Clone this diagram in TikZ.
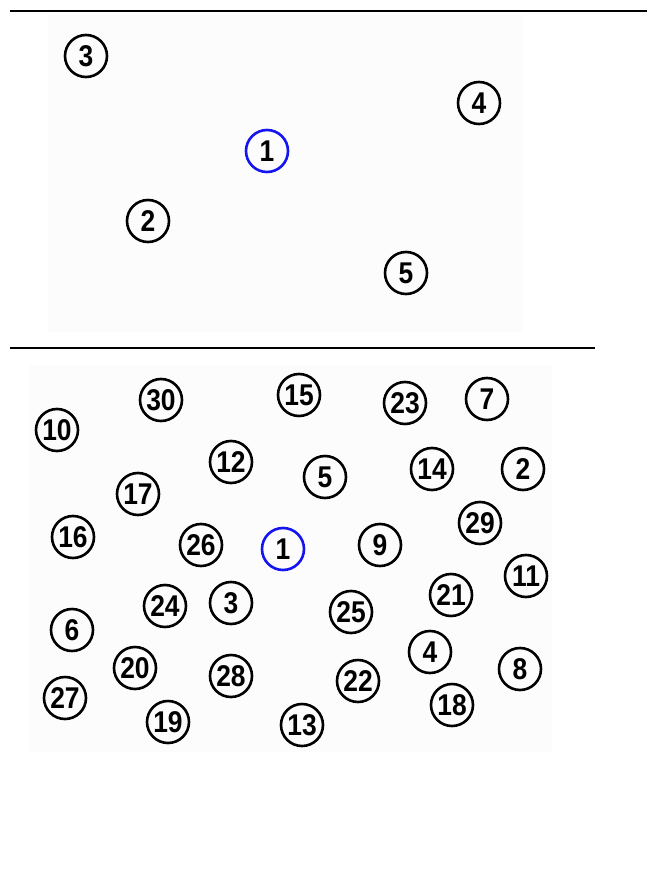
\documentclass[tikz,border=0pt]{standalone}
\usepackage{fontspec}
\newfontfamily\numfont[FakeStretch=0.88]{Liberation Sans}
\definecolor{panel}{RGB}{252,252,252}
\definecolor{blueedge}{RGB}{20,20,240}
\begin{document}
\begin{tikzpicture}[x=1pt,y=-1pt,
  num/.style={circle,draw=black,line width=2.6pt,minimum size=42pt,inner sep=0pt,
    font=\numfont\bfseries\fontsize{30}{30}\selectfont},
  root/.style={num,draw=blueedge},
  rule/.style={line width=2.2pt,black}]
\useasboundingbox (0,0) rectangle (647,877);
\fill[white] (0,0) rectangle (647,877);
% panels
\fill[panel] (48,15) rectangle (522,332);
\fill[panel] (30,365) rectangle (552,752);
% separator rules
\coordinate (r1a) at (10,11); \coordinate (r1b) at (647,11);
\coordinate (r2a) at (10,348); \coordinate (r2b) at (595,348);
\draw[rule] (r1a) -- (r1b);
\draw[rule] (r2a) -- (r2b);
% top panel
\node[num]  (t3) at (86,56)   {3};
\node[num]  (t4) at (479,103) {4};
\node[root] (t1) at (267,151) {1};
\node[num]  (t2) at (148,221) {2};
\node[num]  (t5) at (406,273) {5};
% bottom panel
\node[num] (b30) at (161,400) {30};
\node[num] (b15) at (299,395) {15};
\node[num] (b23) at (405,403) {23};
\node[num] (b7)  at (487,399) {7};
\node[num] (b10) at (57,430)  {10};
\node[num] (b12) at (231,462) {12};
\node[num] (b5)  at (325,477) {5};
\node[num] (b14) at (432,469) {14};
\node[num] (b2)  at (523,469) {2};
\node[num] (b17) at (138,494) {17};
\node[num] (b29) at (480,523) {29};
\node[num] (b16) at (73,537)  {16};
\node[num] (b26) at (201,545) {26};
\node[root] (b1) at (283,549) {1};
\node[num] (b9)  at (380,545) {9};
\node[num] (b11) at (526,576) {11};
\node[num] (b21) at (451,595) {21};
\node[num] (b24) at (165,606) {24};
\node[num] (b3)  at (231,603) {3};
\node[num] (b25) at (351,612) {25};
\node[num] (b6)  at (72,630)  {6};
\node[num] (b4)  at (430,652) {4};
\node[num] (b8)  at (520,669) {8};
\node[num] (b20) at (135,668) {20};
\node[num] (b28) at (231,676) {28};
\node[num] (b22) at (358,681) {22};
\node[num] (b27) at (65,698)  {27};
\node[num] (b18) at (452,705) {18};
\node[num] (b19) at (168,722) {19};
\node[num] (b13) at (302,725) {13};
\end{tikzpicture}
\end{document}
